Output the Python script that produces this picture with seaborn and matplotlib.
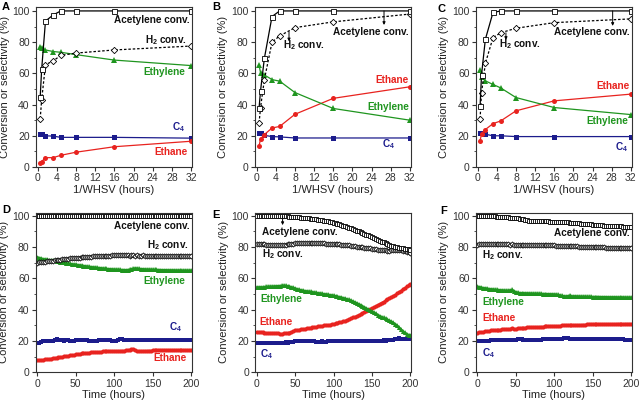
import numpy as np
import matplotlib
matplotlib.use("Agg")
import matplotlib.pyplot as plt
from matplotlib.ticker import MultipleLocator
import seaborn as sns

########################################
######## data ######
########################################

whsv = [0.5, 0.8, 1.6, 3.2, 4.8, 8, 16, 32]

a_acet = [45, 62.5, 93.5, 97.4, 100, 100, 100, 100]
a_h2 = [31, 43, 65.5, 68, 71.5, 73, 75, 77.5]
a_ethylene = [77, 76, 75, 74, 73.5, 72, 68.5, 65]
a_c4 = [21, 21, 20, 19.8, 19, 19, 19, 18.5]
a_ethane = [2.5, 3.5, 6, 6, 7.5, 9.5, 13, 16.5]

b_acet = [38, 48.8, 69.6, 96.4, 100, 100, 100, 100]
b_h2 = [28.3, 38, 56, 80, 84, 89.3, 93, 98]
b_ethylene = [65.3, 60.4, 59, 56, 55, 47.7, 37.5, 30]
b_c4 = [21.8, 21.8, 20.3, 19.5, 19.3, 18.6, 18.6, 18.6]
b_ethane = [13.5, 18, 20.8, 25, 26, 33.8, 44, 51.4]

c_acet = [39, 59, 81.8, 99, 100, 100, 100, 100]
c_h2 = [31, 47.5, 66.4, 82.9, 86, 88.9, 92.5, 94.9]
c_ethylene = [62, 57.8, 55.2, 52.9, 50.7, 44.5, 38.1, 33.6]
c_c4 = [21.5, 21.5, 21, 20, 20, 19.5, 19.5, 19.5]
c_ethane = [16.7, 21.4, 24, 27.8, 29.5, 36, 42.4, 46.7]

# time on stream, one reading every 2.5 h
time_h = np.linspace(0, 200, 81)

d_acet = [100.0, 99.9, 100.0, 99.9, 100.0, 99.9, 100.0, 100.0, 99.9, 100.0,
          99.9, 100.0, 99.9, 100.0, 99.9, 100.0, 99.9, 100.0, 99.9, 100.0,
          99.9, 100.0, 99.9, 100.0, 99.9, 100.0, 99.9, 100.0, 99.9, 100.0,
          99.9, 100.0, 99.9, 100.0, 99.9, 100.0, 99.9, 100.0, 99.9, 100.0,
          99.9, 100.0, 99.9, 100.0, 99.9, 100.0, 99.9, 100.0, 99.9, 100.0,
          99.9, 100.0, 99.9, 100.0, 99.9, 100.0, 99.9, 100.0, 99.9, 100.0,
          99.9, 100.0, 99.9, 100.0, 99.9, 100.0, 99.9, 100.0, 99.9, 100.0,
          99.9, 100.0, 99.9, 100.0, 99.9, 100.0, 99.9, 100.0, 99.9, 100.0, 99.9]
d_h2 = [70.0, 70.2, 70.3, 70.5, 70.6, 70.8, 71.0, 71.1, 71.3, 71.5,
        71.7, 71.9, 72.0, 72.2, 72.3, 72.5, 72.6, 72.7, 72.8, 72.9,
        73.0, 73.1, 73.3, 73.4, 73.5, 73.6, 73.7, 73.8, 73.9, 74.0,
        74.0, 74.1, 74.2, 74.3, 74.3, 74.4, 74.4, 74.5, 74.5, 74.6,
        74.6, 74.6, 74.7, 74.7, 74.6, 74.7, 74.7, 74.6, 74.5, 74.6,
        74.6, 74.5, 74.6, 74.5, 74.5, 74.6, 74.5, 74.4, 74.5, 74.4,
        74.5, 74.4, 74.4, 74.5, 74.4, 74.3, 74.4, 74.4, 74.3, 74.4,
        74.3, 74.4, 74.3, 74.3, 74.4, 74.3, 74.2, 74.3, 74.3, 74.2, 74.3]
d_ethylene = [73.8, 73.3, 72.9, 72.6, 72.4, 72.2, 72.0, 71.8, 71.6, 71.4,
              71.2, 70.9, 70.7, 70.4, 70.2, 69.9, 69.7, 69.5, 69.3, 69.1,
              69.0, 68.8, 68.6, 68.4, 68.2, 68.0, 67.8, 67.6, 67.5, 67.3,
              67.2, 67.0, 66.9, 66.8, 66.6, 66.5, 66.3, 66.2, 66.1, 66.0,
              65.9, 65.8, 65.8, 65.7, 65.6, 65.6, 65.5, 65.6, 65.8, 66.1,
              66.4, 66.6, 66.5, 66.3, 66.2, 66.1, 66.0, 65.9, 65.9, 65.8,
              65.8, 65.7, 65.7, 65.6, 65.6, 65.5, 65.5, 65.5, 65.4, 65.4,
              65.4, 65.4, 65.3, 65.3, 65.3, 65.3, 65.2, 65.3, 65.2, 65.2, 65.3]
d_c4 = [18.6, 19.0, 19.4, 19.7, 19.9, 20.0, 20.1, 20.2, 20.3, 20.4,
        21.2, 20.9, 20.5, 20.4, 20.3, 20.4, 20.5, 20.2, 19.8, 20.3,
        20.5, 20.6, 20.4, 20.5, 20.6, 20.5, 20.4, 20.3, 20.2, 20.0,
        20.1, 20.3, 20.4, 20.5, 20.4, 20.6, 20.5, 20.4, 20.5, 20.3,
        19.8, 20.2, 20.6, 21.0, 21.1, 20.9, 20.7, 20.6, 20.5, 20.4,
        20.6, 20.5, 20.4, 20.5, 20.6, 20.5, 20.4, 20.5, 20.6, 20.5,
        20.5, 20.6, 20.5, 20.4, 20.5, 20.6, 20.5, 20.5, 20.4, 20.5,
        20.6, 20.5, 20.5, 20.6, 20.5, 20.4, 20.5, 20.6, 20.5, 20.5, 20.6]
d_ethane = [7.8, 7.9, 8.0, 8.1, 8.2, 8.4, 8.6, 8.8, 9.0, 9.2,
            9.4, 9.6, 9.8, 10.0, 10.2, 10.4, 10.6, 10.8, 11.0, 11.2,
            11.4, 11.6, 11.8, 12.0, 12.1, 12.3, 12.4, 12.6, 12.7, 12.8,
            12.9, 13.0, 13.1, 13.2, 13.3, 13.4, 13.4, 13.5, 13.6, 13.6,
            13.7, 13.7, 13.8, 13.8, 13.9, 13.9, 14.0, 14.1, 14.4, 14.9,
            14.6, 14.0, 13.6, 13.6, 13.7, 13.7, 13.8, 13.8, 13.9, 13.9,
            14.0, 14.0, 14.0, 14.1, 14.1, 14.1, 14.1, 14.2, 14.2, 14.2,
            14.2, 14.2, 14.3, 14.3, 14.3, 14.2, 14.3, 14.3, 14.3, 14.3, 14.3]

e_acet = [100.0, 100.0, 100.0, 100.0, 100.0, 100.0, 100.0, 100.0, 100.0, 99.9,
          99.9, 99.9, 99.8, 99.8, 99.7, 99.6, 99.5, 99.4, 99.3, 99.2,
          99.1, 99.0, 98.9, 98.8, 98.6, 98.5, 98.4, 98.3, 98.1, 98.0,
          97.8, 97.7, 97.5, 97.3, 97.1, 96.9, 96.7, 96.4, 96.2, 95.9,
          95.6, 95.2, 94.8, 94.4, 94.0, 93.6, 93.2, 92.8, 92.4, 92.0,
          91.5, 91.0, 90.5, 90.0, 89.5, 89.0, 88.5, 88.0, 87.5, 87.0,
          86.4, 85.8, 85.3, 84.7, 84.1, 83.5, 82.9, 82.3, 81.8, 81.3,
          80.9, 80.5, 80.2, 79.9, 79.6, 79.4, 79.2, 79.0, 78.8, 78.6, 78.4]
e_h2 = [82.0, 81.9, 82.0, 81.8, 81.7, 81.6, 81.5, 81.5, 81.4, 81.3,
        81.3, 81.2, 81.2, 81.3, 81.4, 81.5, 81.7, 81.9, 82.1, 82.2,
        82.3, 82.4, 82.5, 82.5, 82.6, 82.5, 82.6, 82.5, 82.5, 82.4,
        82.5, 82.4, 82.4, 82.3, 82.4, 82.3, 82.2, 82.2, 82.1, 82.1,
        82.0, 81.9, 81.8, 81.7, 81.6, 81.5, 81.4, 81.2, 81.0, 80.9,
        80.7, 80.5, 80.3, 80.2, 80.0, 79.8, 79.6, 79.4, 79.3, 79.1,
        79.0, 78.8, 78.6, 78.4, 78.2, 78.0, 77.9, 77.8, 77.7, 77.7,
        77.8, 78.0, 78.2, 78.3, 78.2, 78.0, 77.7, 77.4, 77.1, 76.8, 76.2]
e_ethylene = [54.6, 54.5, 54.6, 54.5, 54.7, 54.8, 54.9, 55.0, 55.0, 55.1,
              55.2, 55.3, 55.4, 55.5, 55.6, 55.5, 55.3, 55.0, 54.6, 54.2,
              53.8, 53.4, 53.0, 52.7, 52.4, 52.2, 52.0, 51.8, 51.6, 51.4,
              51.2, 51.0, 50.8, 50.6, 50.4, 50.2, 50.0, 49.8, 49.6, 49.4,
              49.2, 48.9, 48.6, 48.3, 48.0, 47.7, 47.3, 46.9, 46.5, 46.0,
              45.5, 45.0, 44.4, 43.8, 43.2, 42.5, 41.8, 41.1, 40.4, 39.7,
              39.0, 38.3, 37.6, 36.9, 36.2, 35.6, 35.0, 34.4, 33.8, 33.2,
              32.6, 31.9, 31.1, 30.2, 29.0, 27.8, 26.6, 25.5, 24.7, 24.1, 23.8]
e_ethane = [26.0, 25.9, 25.7, 25.5, 25.4, 25.2, 25.1, 25.0, 24.9, 24.9,
            24.8, 24.8, 24.7, 24.7, 24.8, 24.9, 25.1, 25.4, 25.8, 26.3,
            26.7, 27.0, 27.3, 27.5, 27.7, 27.9, 28.1, 28.3, 28.5, 28.7,
            28.9, 29.1, 29.3, 29.5, 29.7, 29.9, 30.1, 30.3, 30.5, 30.7,
            30.9, 31.2, 31.5, 31.8, 32.2, 32.6, 33.0, 33.5, 34.0, 34.5,
            35.0, 35.5, 36.0, 36.6, 37.2, 37.8, 38.4, 39.0, 39.7, 40.3,
            41.0, 41.7, 42.4, 43.1, 43.8, 44.5, 45.2, 45.9, 46.6, 47.3,
            48.0, 48.8, 49.6, 50.4, 51.3, 52.2, 53.1, 54.0, 54.8, 55.5, 56.5]
e_c4 = [18.8, 18.9, 18.8, 18.9, 18.8, 18.9, 19.0, 18.9, 18.8, 18.9,
        19.0, 18.9, 19.0, 18.9, 19.0, 19.1, 19.0, 19.2, 19.1, 19.3,
        20.0, 19.9, 20.0, 19.8, 19.9, 20.0, 20.1, 19.9, 20.2, 19.9,
        19.7, 19.6, 19.5, 19.6, 19.7, 19.5, 19.6, 19.7, 19.8, 19.9,
        20.0, 19.9, 20.0, 19.9, 20.0, 20.1, 20.0, 19.9, 20.0, 20.1,
        20.0, 20.1, 20.0, 20.1, 20.2, 20.1, 20.0, 20.1, 20.2, 20.1,
        20.2, 20.1, 20.2, 20.3, 20.2, 20.3, 20.4, 20.3, 20.4, 20.5,
        20.6, 20.8, 21.0, 21.4, 21.6, 21.2, 21.1, 21.2, 21.3, 21.2, 21.3]

f_acet = [100.0, 99.9, 99.9, 99.8, 99.8, 99.7, 99.6, 99.6, 99.5, 99.5,
          99.4, 99.3, 99.2, 99.2, 99.1, 99.0, 98.9, 98.8, 98.7, 98.6,
          98.5, 98.3, 98.1, 97.9, 97.7, 97.5, 97.2, 96.8, 96.8, 96.8,
          96.7, 96.7, 96.6, 96.6, 96.5, 96.5, 96.4, 96.4, 96.3, 96.3,
          96.2, 96.2, 96.1, 96.0, 96.0, 95.9, 95.8, 95.7, 95.6, 95.5,
          95.4, 95.3, 95.2, 95.1, 95.0, 94.9, 94.8, 94.7, 94.6, 94.5,
          94.3, 94.1, 94.0, 93.9, 93.9, 93.8, 93.7, 93.7, 93.6, 93.5,
          93.5, 93.4, 93.3, 93.3, 93.2, 93.2, 93.1, 93.0, 93.0, 92.9, 92.8]
f_h2 = [81.6, 81.7, 81.8, 81.8, 81.7, 81.8, 81.9, 81.8, 81.7, 81.8,
        81.8, 81.7, 81.8, 81.7, 81.8, 81.7, 81.7, 81.6, 81.7, 81.6,
        81.6, 81.5, 81.6, 81.5, 81.5, 81.4, 81.5, 81.4, 81.4, 81.3,
        81.3, 81.3, 81.2, 81.2, 81.1, 81.2, 81.1, 81.1, 81.0, 81.0,
        81.0, 80.9, 80.9, 80.8, 80.8, 80.7, 80.7, 80.6, 80.6, 80.5,
        80.5, 80.4, 80.4, 80.3, 80.3, 80.2, 80.2, 80.1, 80.1, 80.0,
        80.0, 79.9, 79.9, 79.8, 79.8, 79.7, 79.7, 79.6, 79.6, 79.5,
        79.5, 79.5, 79.4, 79.4, 79.4, 79.3, 79.3, 79.3, 79.2, 79.2, 79.2]
f_ethylene = [55.0, 54.7, 54.4, 54.1, 53.9, 53.7, 53.5, 53.3, 53.2, 53.0,
              52.9, 52.8, 52.7, 52.6, 52.5, 52.4, 52.4, 52.6, 52.9, 52.2,
              51.5, 51.1, 50.9, 50.8, 50.8, 50.7, 50.7, 50.6, 50.6, 50.5,
              50.5, 50.5, 50.4, 50.4, 50.3, 50.3, 50.2, 50.2, 50.1, 50.1,
              50.0, 49.9, 49.7, 49.4, 49.1, 48.9, 48.7, 48.9, 49.2, 48.8,
              48.8, 48.8, 48.7, 48.7, 48.6, 48.6, 48.6, 48.5, 48.5, 48.5,
              48.4, 48.4, 48.4, 48.4, 48.3, 48.3, 48.3, 48.3, 48.2, 48.2,
              48.2, 48.2, 48.2, 48.1, 48.1, 48.1, 48.1, 48.0, 48.0, 48.0, 48.0]
f_ethane = [25.3, 25.5, 25.7, 25.9, 26.1, 26.3, 26.5, 26.7, 26.9, 27.0,
            27.1, 27.2, 27.3, 27.4, 27.5, 27.6, 27.7, 27.9, 28.3, 27.4,
            27.8, 28.1, 28.3, 28.4, 28.5, 28.6, 28.7, 28.8, 28.9, 29.0,
            29.0, 29.1, 29.1, 29.2, 29.2, 29.3, 29.3, 29.4, 29.4, 29.5,
            29.5, 29.6, 29.7, 29.8, 29.9, 30.0, 30.0, 30.1, 30.1, 30.2,
            30.2, 30.3, 30.3, 30.4, 30.4, 30.5, 30.5, 30.6, 30.6, 30.7,
            30.7, 30.7, 30.8, 30.8, 30.8, 30.9, 30.9, 30.9, 31.0, 31.0,
            31.0, 31.0, 31.0, 31.1, 31.1, 31.1, 31.0, 31.1, 31.1, 31.1, 31.1]
f_c4 = [20.1, 20.1, 20.2, 20.2, 20.3, 20.3, 20.3, 20.4, 20.4, 20.4,
        20.5, 20.5, 20.5, 20.5, 20.6, 20.6, 20.6, 20.6, 20.6, 20.7,
        20.8, 21.3, 21.5, 21.0, 20.8, 20.8, 20.8, 20.8, 20.9, 20.9,
        20.9, 20.9, 20.9, 20.9, 21.0, 21.0, 21.0, 21.0, 21.0, 21.0,
        21.0, 21.1, 21.1, 21.2, 21.4, 21.8, 21.6, 21.9, 21.3, 21.1,
        21.1, 21.1, 21.1, 21.0, 21.0, 21.0, 21.0, 21.1, 21.1, 21.0,
        21.0, 21.0, 21.0, 21.0, 21.1, 21.1, 21.0, 21.0, 21.0, 21.0,
        21.0, 21.0, 21.1, 21.1, 21.0, 21.0, 21.0, 20.9, 20.8, 20.7, 20.6]

#####################################
########### Plotting ################
#####################################

GREEN = '#1f951f'
RED = '#e8231f'
NAVY = '#1c1c8c'

sns.set_theme(style="ticks")
plt.rcParams['font.family'] = ['Liberation Sans', 'DejaVu Sans']
plt.rcParams['mathtext.fontset'] = 'custom'
plt.rcParams['mathtext.rm'] = 'Liberation Sans'
plt.rcParams['mathtext.bf'] = 'Liberation Sans:bold'
plt.rcParams.update({'axes.linewidth': 0.8, 'xtick.major.width': 0.8,
                     'ytick.major.width': 0.8, 'xtick.major.size': 3,
                     'ytick.major.size': 3, 'ytick.minor.size': 1.8,
                     'ytick.minor.width': 0.6, 'xtick.labelsize': 7.5,
                     'ytick.labelsize': 7.5, 'axes.labelsize': 8,
                     'axes.edgecolor': '#333333', 'xtick.color': '#333333',
                     'ytick.color': '#333333', 'text.color': '#222222',
                     'axes.labelcolor': '#222222'})

fig = plt.figure(figsize=(6.4, 4.04), dpi=100)

lefts = [0.0561, 0.3981, 0.7434]
w, h_top, h_bot = 0.2438, 0.396, 0.3953
axes_top = [fig.add_axes([l, 0.5866, w, h_top]) for l in lefts]
axes_bot = [fig.add_axes([l, 0.0785, w, h_bot]) for l in [0.0559, 0.3988, 0.7434]]

top_sets = [(a_acet, a_h2, a_ethylene, a_ethane, a_c4),
            (b_acet, b_h2, b_ethylene, b_ethane, b_c4),
            (c_acet, c_h2, c_ethylene, c_ethane, c_c4)]
bot_sets = [(d_acet, d_h2, d_ethylene, d_ethane, d_c4),
            (e_acet, e_h2, e_ethylene, e_ethane, e_c4),
            (f_acet, f_h2, f_ethylene, f_ethane, f_c4)]


def draw_set(ax, x, data, ms, lw, dense):
    acet, h2, ethylene, ethane, c4 = data
    sns.lineplot(x=x, y=c4, ax=ax, color=NAVY, marker='s', markersize=ms,
                 markeredgewidth=0, linewidth=lw)
    sns.lineplot(x=x, y=ethane, ax=ax, color=RED, marker='o', markersize=ms,
                 markeredgewidth=0, linewidth=lw)
    sns.lineplot(x=x, y=ethylene, ax=ax, color=GREEN, marker='^', markersize=ms + 0.6,
                 markeredgewidth=0, linewidth=lw)
    sns.lineplot(x=x, y=h2, ax=ax, color='black', marker='D', markersize=ms - 0.4,
                 markerfacecolor='white', markeredgecolor='black',
                 markeredgewidth=0.6, linewidth=lw,
                 linestyle=(0, (2, 1.5)) if not dense else '-')
    sns.lineplot(x=x, y=acet, ax=ax, color='black', marker='s', markersize=ms,
                 markerfacecolor='white', markeredgecolor='black',
                 markeredgewidth=0.6, linewidth=lw)


for ax, data in zip(axes_top, top_sets):
    draw_set(ax, whsv, data, 3.6, 0.9, False)
    ax.set_xlim(-0.4, 32.2)
    ax.set_ylim(0, 102.5)
    ax.xaxis.set_major_locator(MultipleLocator(4))
    ax.set_xlabel("1/WHSV (hours)", labelpad=1)

for ax, data in zip(axes_bot, bot_sets):
    draw_set(ax, time_h, data, 3.0, 1.0, True)
    ax.set_xlim(-2, 201)
    ax.set_ylim(0, 102)
    ax.xaxis.set_major_locator(MultipleLocator(50))
    ax.set_xlabel("Time (hours)", labelpad=1)

for ax in axes_top + axes_bot:
    ax.yaxis.set_major_locator(MultipleLocator(20))
    ax.yaxis.set_minor_locator(MultipleLocator(10))
    ax.set_ylabel("Conversion or selectivity (%)", labelpad=2)
    ax.tick_params(axis='both', which='both', direction='out', pad=1.5,
                   top=False, right=False)
    for s in ax.spines.values():
        s.set_visible(True)

H2 = r'H$_\mathbf{2}$ conv.'
C4 = r'C$_\mathbf{4}$'
tk = dict(fontsize=7.2, fontweight='bold', va='center')

# (x, y, ha) for Acetylene, H2, Ethylene, Ethane, C4
labels = [
    [(31.8, 94.2, 'right'), (31.2, 81.4, 'right'), (30.9, 60.6, 'right'),
     (31.4, 9.6, 'right'), (30.8, 25.7, 'right')],
    [(31.8, 86.7, 'right'), (5.4, 78.2, 'left'), (31.8, 38.5, 'right'),
     (31.8, 55.7, 'right'), (28.9, 14.6, 'right')],
    [(31.65, 86.7, 'right'), (4.4, 78.6, 'left'), (31.4, 29.5, 'right'),
     (31.65, 51.8, 'right'), (31.4, 12.8, 'right')],
    [(198.7, 93.6, 'right'), (197, 81.3, 'right'), (193, 58.3, 'right'),
     (194, 9.0, 'right'), (189, 29.1, 'right')],
    [(6.5, 89.4, 'left'), (6.5, 75.3, 'left'), (5.2, 46.8, 'left'),
     (3.4, 32.3, 'left'), (4.3, 11.5, 'left')],
    [(198, 88.7, 'right'), (6.5, 74.9, 'left'), (6.5, 45.1, 'left'),
     (6.5, 34.5, 'left'), (6.5, 12.1, 'left')],
]
names = ['Acetylene conv.', H2, 'Ethylene', 'Ethane', C4]
colors = ['#111111', '#111111', GREEN, RED, NAVY]
for ax, pos in zip(axes_top + axes_bot, labels):
    for (x, y, ha), name, c in zip(pos, names, colors):
        ax.text(x, y, name, ha=ha, color=c, **tk)

arrow = dict(arrowstyle='-|>', lw=0.7, color='black', mutation_scale=4,
             shrinkA=0, shrinkB=0)
axes_top[1].annotate('', xy=(26.6, 91), xytext=(26.6, 100), arrowprops=arrow)
axes_top[1].annotate('', xy=(6.75, 80.5), xytext=(6.75, 86.7), arrowprops=arrow)
axes_top[2].annotate('', xy=(28.2, 90.4), xytext=(28.2, 100), arrowprops=arrow)
axes_top[2].annotate('', xy=(5.9, 81.4), xytext=(5.9, 86.0), arrowprops=arrow)
axes_bot[1].annotate('', xy=(33.6, 94), xytext=(33.6, 99.5), arrowprops=arrow)

letters = [('A', 2, 2), ('B', 212, 2), ('C', 437, 4),
           ('D', 2, 205), ('E', 212, 210), ('F', 440, 206)]
for t, px, py in letters:
    fig.text(px / 640, 1 - py / 404, t, fontsize=8, fontweight='bold',
             ha='left', va='top', color='black')

plt.savefig("out.png", dpi=100)
